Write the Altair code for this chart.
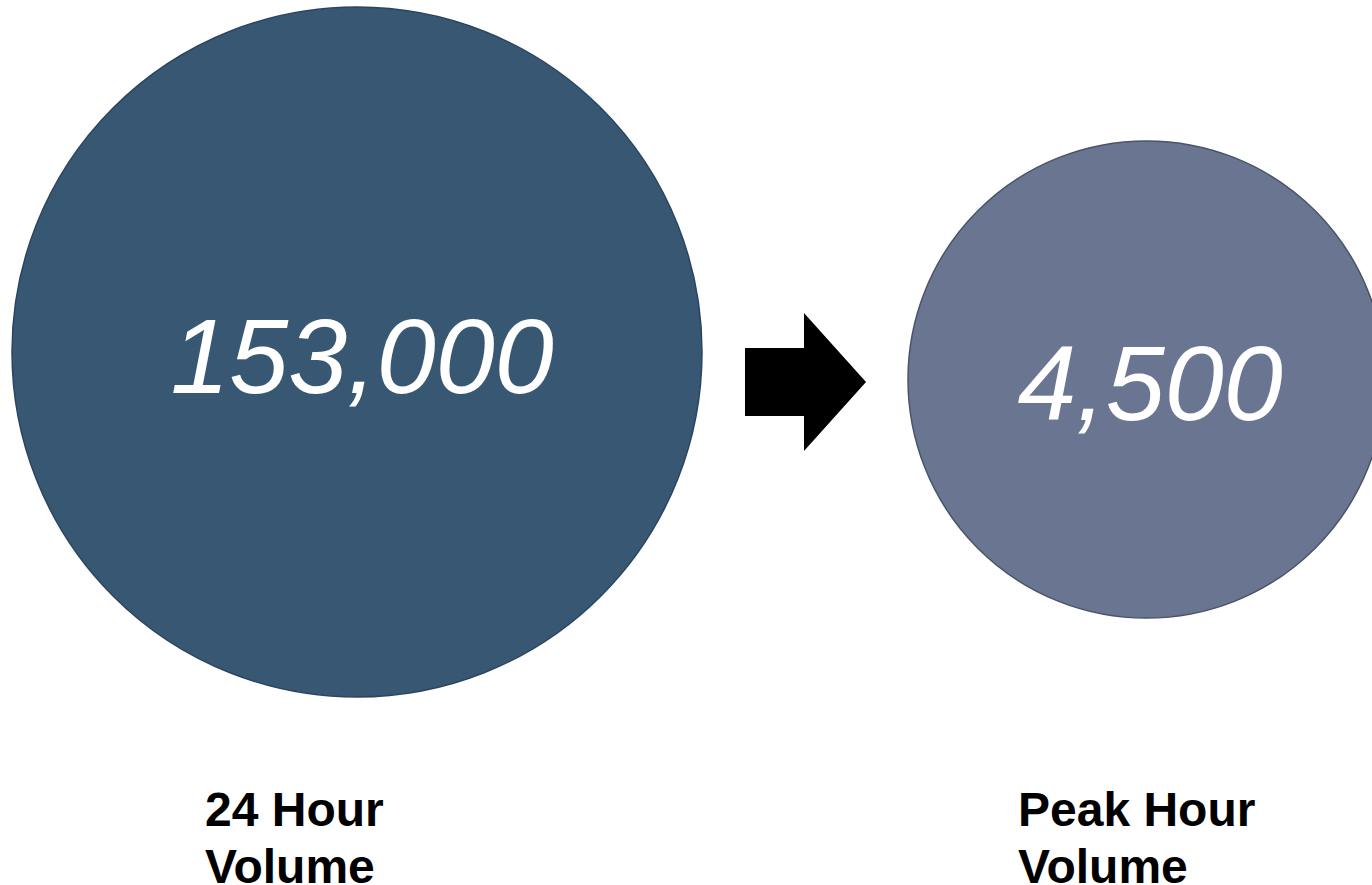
import altair as alt
import pandas as pd

# Data
labels = ["24 Hour\nVolume", "Peak Hour\nVolume"]
values = [153000, 4500]
value_text = ["153,000", "4,500"]

# Layout (pixel positions / sizes, kept separate from data)
W, H = 1372, 885
cx = [357, 1146.5]
cy = [352, 379.5]
diam = [690, 477]
label_x = [205, 1018]
label_y = [826, 826]
num_x = [362, 1150]
num_y = [393, 420]
fills = ["#385773", "#6a7592"]
strokes = ["#2b4560", "#4a5468"]

df = pd.DataFrame({
    "label": labels, "value": values, "vtext": value_text,
    "cx": cx, "cy": cy, "size": [d * d for d in diam],
    "lx": label_x, "ly": label_y, "nx": num_x, "ny": num_y,
    "fill": fills, "stroke": strokes,
})

xs = alt.Scale(domain=[0, W], range=[0, W])
ys = alt.Scale(domain=[0, H], range=[0, H])
noax = dict(axis=None)

base = alt.Chart(df)

circles = base.mark_point(shape="circle", filled=True, opacity=1, strokeWidth=1.5).encode(
    x=alt.X("cx:Q", scale=xs, **noax),
    y=alt.Y("cy:Q", scale=ys, **noax),
    size=alt.Size("size:Q", scale=None, legend=None),
    fill=alt.Fill("fill:N", scale=None, legend=None),
    stroke=alt.Stroke("stroke:N", scale=None, legend=None),
)

nums = base.mark_text(font="Liberation Sans", fontStyle="italic", fontSize=106,
                      color="white", align="center", baseline="alphabetic").encode(
    x=alt.X("nx:Q", scale=xs, **noax),
    y=alt.Y("ny:Q", scale=ys, **noax),
    text="vtext:N",
)

labs = base.mark_text(font="Liberation Sans", fontWeight="bold", fontSize=48,
                      color="black", align="left", baseline="alphabetic",
                      lineBreak="\n", lineHeight=57).encode(
    x=alt.X("lx:Q", scale=xs, **noax),
    y=alt.Y("ly:Q", scale=ys, **noax),
    text="label:N",
)

arrow_df = pd.DataFrame({"ax": [805.5], "ay": [382]})
arrow_path = ("M -0.877 -0.493 L -0.022 -0.493 L -0.022 -1 L 0.877 0 "
              "L -0.022 1 L -0.022 0.493 L -0.877 0.493 Z")
arrow = alt.Chart(arrow_df).mark_point(shape=arrow_path, filled=True, fill="black",
                                        opacity=1, size=138 * 138, strokeWidth=0).encode(
    x=alt.X("ax:Q", scale=xs, **noax),
    y=alt.Y("ay:Q", scale=ys, **noax),
)

chart = alt.layer(circles, arrow, nums, labs).properties(
    width=W, height=H, padding=0, autosize=alt.AutoSizeParams(type="none"),
    background="white",
).configure_view(stroke=None)

chart.save("out.html", embed_options={"renderer": "svg", "actions": False})
